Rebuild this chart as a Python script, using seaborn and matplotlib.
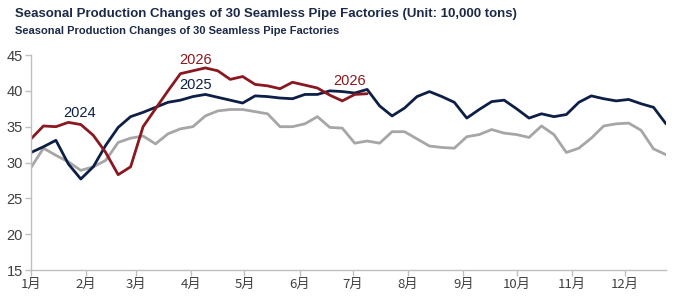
import numpy as np
import pandas as pd
import matplotlib
matplotlib.use("Agg")
import matplotlib.pyplot as plt
import seaborn as sns

# === dati (lettura dal grafico, settimane 1..52) ===========================
y2024 = [29.3, 32.0, 31.0, 30.1, 28.9, 29.4, 30.3, 32.8, 33.4, 33.7,
         32.6, 34.0, 34.7, 35.0, 36.5, 37.2, 37.4, 37.4, 37.1, 36.8,
         35.0, 35.0, 35.4, 36.4, 34.9, 34.8, 32.7, 33.0, 32.7, 34.3,
         34.3, 33.3, 32.3, 32.1, 32.0, 33.6, 33.9, 34.6, 34.1, 33.9,
         33.5, 35.1, 33.9, 31.4, 32.0, 33.4, 35.1, 35.4, 35.5, 34.5,
         31.9, 31.1]
y2025 = [31.4, 32.2, 33.1, 29.8, 27.7, 29.4, 32.4, 34.9, 36.4, 37.0,
         37.7, 38.4, 38.7, 39.2, 39.5, 39.1, 38.7, 38.3, 39.3, 39.2,
         39.0, 38.9, 39.5, 39.5, 40.0, 39.9, 39.7, 40.2, 37.9, 36.5,
         37.6, 39.2, 39.9, 39.2, 38.4, 36.2, 37.4, 38.5, 38.7, 37.5,
         36.2, 36.8, 36.4, 36.7, 38.4, 39.3, 38.9, 38.6, 38.8, 38.2,
         37.7, 35.4]
y2026 = [33.3, 35.1, 35.0, 35.6, 35.3, 33.8, 31.4, 28.3, 29.4, 35.0,
         37.5, 40.0, 42.4, 42.8, 43.2, 42.8, 41.6, 42.0, 40.9, 40.7,
         40.3, 41.2, 40.8, 40.4, 39.4, 38.6, 39.5, 39.6]

months = ["1月", "2月", "3月", "4月", "5月", "6月",
          "7月", "8月", "9月", "10月", "11月", "12月"]
month_start_doy = [0, 31, 59, 90, 120, 151, 181, 212, 243, 273, 304, 334]

title1 = "Seasonal Production Changes of 30 Seamless Pipe Factories (Unit: 10,000 tons)"
title2 = "Seasonal Production Changes of 30 Seamless Pipe Factories"

frames = []
for year, vals in [("2024", y2024), ("2025", y2025), ("2026", y2026)]:
    frames.append(pd.DataFrame({"week": np.arange(len(vals)),
                                "value": vals, "year": year}))
df = pd.concat(frames, ignore_index=True)

colors = {"2024": "#a6a6a6", "2025": "#0e1f47", "2026": "#8a1820"}

# === stile ==================================================================
sns.set_style("white")
plt.rcParams["font.family"] = ["Liberation Sans", "Noto Sans CJK SC", "DejaVu Sans"]

fig = plt.figure(figsize=(6.8, 3.04), dpi=100)
ax = fig.add_axes([0.0456, 0.1118, 0.9338, 0.7072])

sns.lineplot(data=df, x="week", y="value", hue="year", palette=colors,
             linewidth=2.0, legend=False, ax=ax)

ax.set_xlim(0, 51)
ax.set_ylim(15, 45)
ax.set_yticks(range(15, 46, 5))
ax.set_xticks([d / 7 for d in month_start_doy])
ax.set_xticklabels(months, family=["Noto Sans CJK SC", "DejaVu Sans"], fontsize=9.5)
ax.set_xlabel("")
ax.set_ylabel("")
ax.tick_params(axis="y", labelsize=10.5, labelcolor="#404040", length=4, width=1,
               direction="out", pad=2, left=True)
ax.tick_params(axis="x", labelcolor="#404040", length=4, width=1,
               direction="out", pad=2, bottom=True)
for side in ["top", "right"]:
    ax.spines[side].set_visible(False)
for side in ["left", "bottom"]:
    ax.spines[side].set_color("#bfbfbf")
    ax.spines[side].set_linewidth(1.0)
ax.tick_params(axis="both", color="#bfbfbf")

# etichette delle serie
ax.text(3.86, 36.85, "2024", color=colors["2025"], fontsize=10.5,
        ha="center", va="center")
ax.text(13.2, 40.8, "2025", color=colors["2025"], fontsize=10.5,
        ha="center", va="center")
ax.text(13.2, 44.3, "2026", color=colors["2026"], fontsize=10.5,
        ha="center", va="center")
ax.text(25.6, 41.4, "2026", color=colors["2026"], fontsize=10.5,
        ha="center", va="center")

fig.text(15 / 680, 1 - 14 / 304, title1, fontsize=9.5, fontweight="bold",
         color="#1c2a48", ha="left", va="center")
fig.text(15 / 680, 1 - 31 / 304, title2, fontsize=8.0, fontweight="bold",
         color="#1c2a48", ha="left", va="center")

fig.savefig("out.png", dpi=100)
